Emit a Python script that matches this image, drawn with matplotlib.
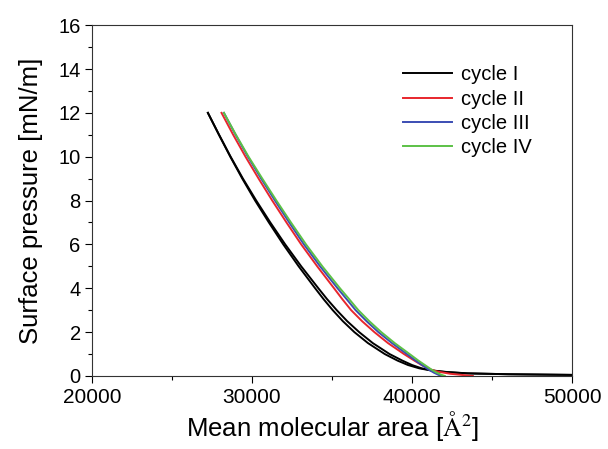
import numpy as np
import matplotlib
matplotlib.use("Agg")
from matplotlib import pyplot as plt
from matplotlib.ticker import MultipleLocator

plt.rcParams['font.family'] = ['Liberation Sans', 'DejaVu Sans']
plt.rcParams['mathtext.fontset'] = 'stix'

# surface pressure [mN/m] vs mean molecular area [A^2]
p_black = [12, 11, 10, 9, 8, 7, 6, 5, 4, 3.5, 3, 2.5, 2, 1.5, 1, 0.7, 0.5, 0.35, 0.25, 0.18, 0.12, 0.08, 0.05]
area_black_a = [27250, 27950, 28670, 29440, 30270, 31150, 32080, 33080, 34150, 34700, 35300, 35950,
                36700, 37550, 38600, 39400, 40000, 40600, 41300, 42200, 43500, 46000, 50000]
area_black_b = [27250, 27940, 28650, 29400, 30200, 31060, 31960, 32920, 33950, 34480, 35050, 35680,
                36400, 37250, 38300, 39100, 39750, 40450, 41200, 42100, 43400, 46000, 50000]

p_red = [12, 11, 10, 9, 8, 7, 6, 5, 4, 3.5, 3, 2.5, 2, 1.5, 1, 0.7, 0.5, 0.3, 0.2, 0.1, 0.05, 0.0]
area_red = [28100, 28830, 29600, 30420, 31270, 32160, 33080, 34080, 35130, 35650, 36200, 36880,
            37650, 38500, 39500, 40150, 40600, 41150, 41600, 42400, 43100, 43800]

p_col = [12, 11, 10, 9, 8, 7, 6, 5, 4, 3.5, 3, 2.5, 2, 1.5, 1, 0.7, 0.5, 0.3, 0.15, 0.05, 0.0]
area_blue = [28250, 28980, 29750, 30580, 31440, 32330, 33250, 34260, 35350, 35920, 36480, 37160,
             37900, 38750, 39680, 40230, 40620, 41020, 41370, 41660, 41850]
area_green = [28250, 29000, 29790, 30650, 31530, 32440, 33380, 34400, 35500, 36080, 36650, 37330,
              38080, 38920, 39850, 40400, 40800, 41200, 41550, 41850, 42050]

labels = ['cycle I', 'cycle II', 'cycle III', 'cycle IV']
colors = ['black', '#e8262c', '#3b4db3', '#5cc146']

fig = plt.figure(figsize=(6.08, 4.49), dpi=100)
ax = fig.add_axes([0.151, 0.1626, 0.790, 0.7814])

ax.plot(area_black_b, p_black, color=colors[0], lw=1.4)
ax.plot(area_black_a, p_black, color=colors[0], lw=1.4, label=labels[0])
ax.plot(area_red, p_red, color=colors[1], lw=1.4, label=labels[1])
ax.plot(area_blue, p_col, color=colors[2], lw=1.4, label=labels[2])
ax.plot(area_green, p_col, color=colors[3], lw=1.4, label=labels[3])

ax.set_xlim(20000, 50000)
ax.set_ylim(0, 16)
ax.xaxis.set_major_locator(MultipleLocator(10000))
ax.xaxis.set_minor_locator(MultipleLocator(5000))
ax.yaxis.set_major_locator(MultipleLocator(2))
ax.yaxis.set_minor_locator(MultipleLocator(1))
ax.tick_params(which='major', direction='out', length=5, width=0.8, top=False, right=False)
ax.tick_params(axis='x', labelsize=15, pad=4)
ax.tick_params(axis='y', labelsize=14.5, pad=3)
ax.tick_params(which='minor', direction='out', length=3, width=0.8, top=False, right=False)
for s in ax.spines.values():
    s.set_linewidth(0.8)
    s.set_color('#333333')

ax.set_xlabel(r'Mean molecular area [$\mathrm{\AA}^2$]', fontsize=18.5, labelpad=1)
ax.set_ylabel('Surface pressure [mN/m]', fontsize=18.5, labelpad=11)

ax.legend(loc='upper left', bbox_to_anchor=(0.632, 0.908), frameon=False, fontsize=14.5,
          handlelength=2.4, handletextpad=0.45, labelspacing=0.26, borderaxespad=0)

fig.savefig('out.png', dpi=100)
